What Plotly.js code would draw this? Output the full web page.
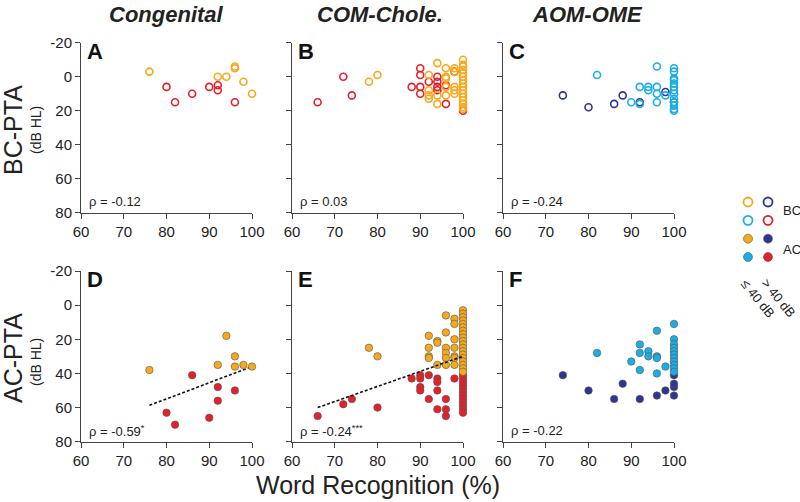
<!DOCTYPE html>
<html>
<head>
<meta charset="utf-8">
<script src="https://cdn.plot.ly/plotly-3.0.1.min.js"></script>
<style>html,body{margin:0;padding:0;background:#fff;}#chart{width:800px;height:502px;}</style>
</head>
<body>
<div id="chart"></div>
<script>
// ---------- DATA ----------
const columnTitles = ["Congenital", "COM-Chole.", "AOM-OME"];
const panelLetters = ["A", "B", "C", "D", "E", "F"];
const rhoLabels = ["ρ = -0.12", "ρ = 0.03", "ρ = -0.24", "ρ = -0.59<sup>*</sup>", "ρ = -0.24<sup>***</sup>", "ρ = -0.22"];
const xTicks = [60, 70, 80, 90, 100];
const yTicks = [-20, 0, 20, 40, 60, 80];

// Panel A: Congenital, BC-PTA
const A_le40_x = [76, 92, 94, 96, 96, 98, 100];
const A_le40_y = [-3, 0, 0, -6, -5, 3, 10];
const A_gt40_x = [80, 82, 86, 90, 92, 92, 96];
const A_gt40_y = [6, 15, 10, 6, 5, 8, 15];

// Panel B: COM-Chole., BC-PTA
const B_gt40_x = [66, 72, 74, 88, 90, 90, 90, 90, 92, 94, 94, 94, 94, 96, 96, 98, 100];
const B_gt40_y = [15, 0, 11, 6, -5, -1, 6, 10, 3, 0, 3, 6, 8, 5, 16, -3, 20];
const B_le40_x = [78, 80, 92, 92, 92, 92, 94, 94, 94, 96, 96, 96, 96, 96, 98, 98, 98, 98, 98,
                  100, 100, 100, 100, 100, 100, 100, 100, 100, 100, 100, 100, 100, 100, 100, 100];
const B_le40_y = [3, -1, -1, 8, 11, 13, -8, 11, 16, -5, 0, 1, 6, 11, -5, -3, 6, 8, 10,
                  -10, -7, -6, -4, -2, 0, 2, 4, 6, 8, 10, 12, 14, 16, 18, 19];

// Panel C: AOM-OME, BC-PTA
const C_gt40_x = [74, 80, 86, 88, 92, 98, 100];
const C_gt40_y = [11, 18, 16, 11, 15, 9, 15];
const C_le40_x = [82, 90, 92, 92, 94, 94, 96, 96, 96, 96, 98,
                  100, 100, 100, 100, 100, 100, 100, 100, 100, 100, 100, 100, 100];
const C_le40_y = [-1, 15, 6, 16, 6, 8, -6, 6, 10, 15, 11,
                  -5, -3, 1, 2, 4, 6, 8, 10, 13, 15, 17, 19, 20];

// Panel D: Congenital, AC-PTA
const D_le40_x = [76, 92, 94, 96, 96, 98, 100];
const D_le40_y = [38, 35, 18, 30, 36, 35, 36];
const D_gt40_x = [80, 82, 86, 90, 92, 92, 96];
const D_gt40_y = [63, 70, 41, 66, 48, 56, 50];
const D_fit_x = [76, 100];
const D_fit_y = [58.7, 36];

// Panel E: COM-Chole., AC-PTA
const E_gt40_x = [66, 72, 74, 80, 88, 90, 90, 90, 90, 92, 92, 94, 94, 94, 94, 96, 96, 96, 98,
                  100, 100, 100, 100, 100, 100, 100, 100, 100, 100, 100, 100];
const E_gt40_y = [65, 58, 55, 60, 43, 41, 43, 48, 50, 41, 55, 43, 45, 50, 61, 55, 61, 65, 43,
                  41, 43, 45, 47, 49, 51, 53, 55, 57, 59, 61, 63];
const E_le40_x = [78, 80, 92, 92, 92, 92, 94, 94, 94, 96, 96, 96, 96, 96, 96, 98, 98, 98, 98, 98, 98, 98,
                  100, 100, 100, 100, 100, 100, 100, 100, 100, 100, 100, 100, 100, 100, 100, 100, 100, 100, 100];
const E_le40_y = [25, 30, 18, 25, 30, 31, 21, 22, 35, 6, 16, 25, 28, 31, 35, 8, 11, 20, 25, 30, 31, 35,
                  3, 5, 7, 9, 11, 13, 15, 17, 19, 21, 23, 25, 27, 29, 31, 33, 35, 37, 39];
const E_fit_x = [66, 100];
const E_fit_y = [60, 30];

// Panel F: AOM-OME, AC-PTA
const F_gt40_x = [74, 80, 86, 88, 92, 96, 98, 100, 100, 100, 100];
const F_gt40_y = [41, 50, 55, 46, 55, 53, 50, 53, 48, 46, 41];
const F_le40_x = [82, 90, 92, 92, 92, 94, 94, 96, 96, 96, 96, 98,
                  100, 100, 100, 100, 100, 100, 100, 100, 100, 100, 100];
const F_le40_y = [28, 33, 23, 28, 38, 27, 30, 15, 30, 31, 40, 36,
                  11, 20, 23, 25, 27, 29, 31, 33, 35, 37, 39];

// Legend key
const legendCol = [0, 1, 0, 1, 0, 1, 0, 1];
const legendRow = [0, 0, 1, 1, 2, 2, 3, 3];

// ---------- STYLE ----------
const ORANGE = "#F7A91D", RED = "#E4202A", LBLUE = "#1BAEE6", NAVY = "#2D3592";
const FONT = "Liberation Sans, Arial, Helvetica, sans-serif";

function openTrace(x, y, color, k) {
  return { x: x, y: y, type: "scatter", mode: "markers", cliponaxis: false,
    xaxis: "x" + (k === 1 ? "" : k), yaxis: "y" + (k === 1 ? "" : k),
    marker: { symbol: "circle-open", size: 7, color: color, line: { width: 1.6, color: color } },
    showlegend: false, hoverinfo: "skip" };
}
function filledTrace(x, y, color, k) {
  return { x: x, y: y, type: "scatter", mode: "markers", cliponaxis: false,
    xaxis: "x" + (k === 1 ? "" : k), yaxis: "y" + (k === 1 ? "" : k),
    marker: { symbol: "circle", size: 7.5, color: color, line: { width: 0.6, color: "#555" } },
    showlegend: false, hoverinfo: "skip" };
}
function fitTrace(x, y, k) {
  return { x: x, y: y, type: "scatter", mode: "lines", cliponaxis: false,
    xaxis: "x" + k, yaxis: "y" + k,
    line: { color: "#111", width: 1.6, dash: "3px,2px" }, showlegend: false, hoverinfo: "skip" };
}

const traces = [
  openTrace(A_gt40_x, A_gt40_y, RED, 1), openTrace(A_le40_x, A_le40_y, ORANGE, 1),
  openTrace(B_gt40_x, B_gt40_y, RED, 2), openTrace(B_le40_x, B_le40_y, ORANGE, 2),
  openTrace(C_gt40_x, C_gt40_y, NAVY, 3), openTrace(C_le40_x, C_le40_y, LBLUE, 3),
  fitTrace(D_fit_x, D_fit_y, 4),
  filledTrace(D_gt40_x, D_gt40_y, RED, 4), filledTrace(D_le40_x, D_le40_y, ORANGE, 4),
  filledTrace(E_gt40_x, E_gt40_y, RED, 5), filledTrace(E_le40_x, E_le40_y, ORANGE, 5),
  fitTrace(E_fit_x, E_fit_y, 5),
  filledTrace(F_gt40_x, F_gt40_y, NAVY, 6), filledTrace(F_le40_x, F_le40_y, LBLUE, 6),
  // legend key
  { x: legendCol, y: legendRow, type: "scatter", mode: "markers", cliponaxis: false,
    xaxis: "x7", yaxis: "y7", showlegend: false, hoverinfo: "skip",
    marker: { size: 9,
      symbol: ["circle-open", "circle-open", "circle-open", "circle-open", "circle", "circle", "circle", "circle"],
      color: [ORANGE, NAVY, LBLUE, RED, ORANGE, NAVY, LBLUE, RED],
      line: { width: [1.8, 1.8, 1.8, 1.8, 0.6, 0.6, 0.6, 0.6],
              color: [ORANGE, NAVY, LBLUE, RED, "#555", "#555", "#555", "#555"] } } }
];

const W = 800, H = 502;
const colX = [[81 / W, 252 / W], [292 / W, 463 / W], [503 / W, 674 / W]];
const rowY = [[1 - 212.7 / H, 1 - 42.7 / H], [1 - 441.7 / H, 1 - 271 / H]];

const layout = {
  width: W, height: H, margin: { l: 0, r: 0, t: 0, b: 0 },
  paper_bgcolor: "#fff", plot_bgcolor: "rgba(0,0,0,0)",
  font: { family: FONT, color: "#222" },
  showlegend: false, annotations: []
};

for (let k = 1; k <= 6; k++) {
  const col = (k - 1) % 3, row = Math.floor((k - 1) / 3);
  const sfx = k === 1 ? "" : String(k);
  layout["xaxis" + sfx] = {
    domain: colX[col], range: [60, 100], anchor: "y" + sfx,
    tickvals: xTicks, ticktext: xTicks.map(String), ticks: "outside", ticklen: 5, tickwidth: 1, tickcolor: "#444",
    showline: true, linecolor: "#444", linewidth: 1, showgrid: false, zeroline: false,
    tickfont: { size: 15, family: FONT, color: "#222" }, fixedrange: true
  };
  layout["yaxis" + sfx] = {
    domain: rowY[row], range: [80, -20], anchor: "x" + sfx,
    tickvals: yTicks, ticktext: yTicks.map(String), ticks: "outside", ticklen: 5, tickwidth: 1, tickcolor: "#444",
    showline: true, linecolor: "#444", linewidth: 1, showgrid: false, zeroline: false,
    showticklabels: col === 0, tickfont: { size: 15, family: FONT, color: "#222" }, fixedrange: true
  };
  layout.annotations.push({ xref: "x" + sfx, yref: "y" + sfx, x: 61.0, y: -15, text: "<b>" + panelLetters[k - 1] + "</b>",
    showarrow: false, xanchor: "left", yanchor: "middle", font: { size: 22, family: FONT, color: "#111" } });
  layout.annotations.push({ xref: "x" + sfx, yref: "y" + sfx, x: 61.3, y: 73.5, text: rhoLabels[k - 1],
    showarrow: false, xanchor: "left", yanchor: "middle", font: { size: 13, family: FONT, color: "#222" } });
}
layout.xaxis7 = { domain: [748 / W, 768 / W], range: [0, 1], anchor: "y7", visible: false, fixedrange: true };
layout.yaxis7 = { domain: [1 - 257 / H, 1 - 202 / H], range: [3, 0], anchor: "x7", visible: false, fixedrange: true };

// column titles
const colCenters = [166 / W, 380 / W, 587 / W];
columnTitles.forEach((t, i) => layout.annotations.push({
  xref: "paper", yref: "paper", x: colCenters[i], y: 1 - 15 / H, text: "<b><i>" + t + "</i></b>",
  showarrow: false, xanchor: "center", yanchor: "middle",
  font: { size: 22, family: "Liberation Sans Narrow, Liberation Sans, Arial, sans-serif", color: "#222" } }));

// row titles
[["BC-PTA", 130, 130], ["AC-PTA", 358, 362]].forEach(r => {
  layout.annotations.push({ xref: "paper", yref: "paper", x: 13 / W, y: 1 - r[1] / H, text: r[0], textangle: -90,
    showarrow: false, xanchor: "center", yanchor: "middle", font: { size: 25, family: FONT, color: "#222" } });
  layout.annotations.push({ xref: "paper", yref: "paper", x: 36 / W, y: 1 - r[2] / H, text: "(dB HL)", textangle: -90,
    showarrow: false, xanchor: "center", yanchor: "middle", font: { size: 14, family: FONT, color: "#222" } });
});

// x title
layout.annotations.push({ xref: "paper", yref: "paper", x: 378 / W, y: 1 - 485 / H, text: "Word Recognition (%)",
  showarrow: false, xanchor: "center", yanchor: "middle", font: { size: 25, family: FONT, color: "#222" } });

// legend labels
layout.annotations.push({ xref: "paper", yref: "paper", x: 781 / W, y: 1 - 210 / H, text: "BC", showarrow: false,
  xanchor: "left", yanchor: "middle", font: { size: 13, family: FONT, color: "#222" } });
layout.annotations.push({ xref: "paper", yref: "paper", x: 781 / W, y: 1 - 249 / H, text: "AC", showarrow: false,
  xanchor: "left", yanchor: "middle", font: { size: 13, family: FONT, color: "#222" } });
layout.annotations.push({ xref: "paper", yref: "paper", x: 758 / W, y: 1 - 298 / H, text: "≤ 40 dB", textangle: 51,
  showarrow: false, xanchor: "center", yanchor: "middle", font: { size: 13, family: FONT, color: "#222" } });
layout.annotations.push({ xref: "paper", yref: "paper", x: 778 / W, y: 1 - 297.5 / H, text: "&gt; 40 dB", textangle: 51,
  showarrow: false, xanchor: "center", yanchor: "middle", font: { size: 13, family: FONT, color: "#222" } });

Plotly.newPlot("chart", traces, layout, { staticPlot: true, displayModeBar: false });
</script>
</body>
</html>
